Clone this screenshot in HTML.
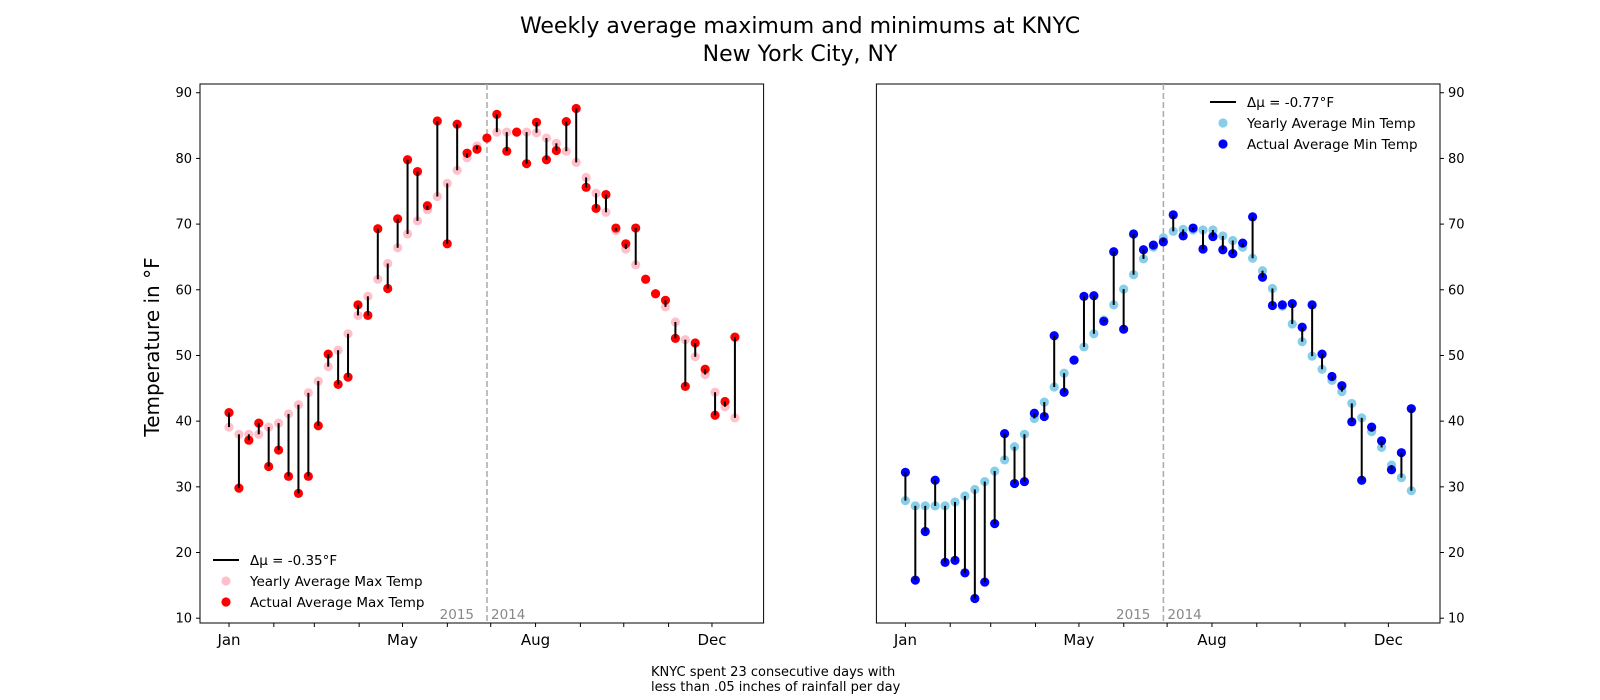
<!DOCTYPE html>
<html><head><meta charset="utf-8"><style>
body{margin:0;background:#fff;}
svg{display:block;font-family:"DejaVu Sans","Liberation Sans",sans-serif;}
</style></head><body>
<svg id="fig" width="1600" height="700" viewBox="0 0 1600 700">
<text x="800" y="33" text-anchor="middle" font-size="22">Weekly average maximum and minimums at KNYC</text>
<text x="800" y="61" text-anchor="middle" font-size="22">New York City, NY</text>
<text transform="translate(159,347) rotate(-90)" text-anchor="middle" font-size="20">Temperature in °F</text>
<text x="651" y="676" font-size="13">KNYC spent 23 consecutive days with</text>
<text x="651" y="691" font-size="13">less than .05 inches of rainfall per day</text>
<g id="p1"></g>
<g id="p2"></g>
</svg>
<script>
const maxYearly=[39.1,38.0,38.0,38.0,39.1,39.7,41.1,42.5,44.3,46.1,48.3,50.8,53.3,56.1,59.0,61.6,64.0,66.4,68.5,70.5,72.2,74.2,76.2,78.2,80.1,81.9,83.1,84.0,84.0,84.0,84.0,83.9,83.1,82.3,81.1,79.4,77.1,74.7,71.8,69.0,66.2,63.8,61.6,59.4,57.4,55.1,52.4,49.8,47.1,44.4,42.2,40.5];
const maxActual=[41.3,29.8,37.1,39.7,33.1,35.6,31.6,29.0,31.6,39.3,50.2,45.6,46.7,57.7,56.1,69.3,60.2,70.8,79.8,78.0,72.8,85.7,67.0,85.2,80.8,81.4,83.1,86.7,81.1,84.0,79.2,85.5,79.8,81.2,85.6,87.6,75.6,72.4,74.5,69.4,67.0,69.4,61.6,59.4,58.4,52.6,45.3,51.9,47.9,40.9,43.0,52.8];
const minYearly=[27.9,27.1,27.1,27.1,27.1,27.7,28.6,29.6,30.8,32.4,34.1,36.1,38.0,40.4,42.9,45.2,47.3,49.3,51.3,53.3,55.4,57.7,60.1,62.3,64.7,66.5,67.9,68.9,69.2,69.1,69.1,69.1,68.2,67.5,66.5,64.8,62.9,60.2,57.5,54.8,52.1,49.9,47.9,46.2,44.5,42.7,40.5,38.4,36.0,33.3,31.4,29.4];
const minActual=[32.2,15.8,23.2,31.0,18.5,18.8,16.9,13.0,15.5,24.4,38.1,30.5,30.8,41.2,40.7,53.0,44.4,49.3,59.0,59.1,55.2,65.8,54.0,68.5,66.1,66.8,67.3,71.4,68.2,69.4,66.2,68.1,66.1,65.5,67.1,71.1,61.9,57.6,57.7,57.9,54.3,57.7,50.2,46.8,45.4,39.9,31.0,39.1,37.0,32.6,35.2,41.9];
const yTicks=[10,20,30,40,50,60,70,80,90];
const monthDays=[0,31,59,90,120,151,181,212,243,273,304,334];
const monthLabels=["Jan","","","","May","","","Aug","","","","Dec"];
const yMin=9.27,yMax=91.33;
const NS="http://www.w3.org/2000/svg";
const TOP=84,BOT=623,W=563.6;
function mk(p,tag,a){const e=document.createElementNS(NS,tag);for(const k in a)e.setAttribute(k,a[k]);p.appendChild(e);return e;}
function yS(v){return BOT-(v-yMin)/(yMax-yMin)*(BOT-TOP);}
function panel(g,L,yearly,actual,cY,cA,leg,right,delta){
  const xW=i=>L+29+i*9.92, xD=d=>L+29+d*1.446;
  const fr=mk(g,'rect',{x:L,y:TOP,width:W,height:BOT-TOP,fill:'none',stroke:'#000','stroke-width':1});
  
  
  const dx=L+287;
  const dl=mk(g,'line',{x1:dx,x2:dx,y1:TOP,y2:BOT,stroke:'#aaa','stroke-width':1.5,'stroke-dasharray':'6,3'});
  
  
  const t1=mk(g,'text',{x:dx-13,y:BOT-4,'text-anchor':'end','font-size':13.5,fill:'#888'});t1.textContent='2015';
  
  
  const t2=mk(g,'text',{x:dx+4,y:BOT-4,'font-size':13.5,fill:'#888'});t2.textContent='2014';
  
  
  yTicks.forEach(v=>{const y=yS(v);
    const tx=right?L+W:L;
    mk(g,'line',{x1:tx,x2:right?tx+4:tx-4,y1:y,y2:y,stroke:'#000'});
    const t=mk(g,'text',{x:right?tx+8:tx-8,y:y+4.5,'text-anchor':right?'start':'end','font-size':13});t.textContent=v;
    
    
  });
  monthDays.forEach((d,k)=>{const x=xD(d);
    mk(g,'line',{x1:x,x2:x,y1:BOT,y2:BOT+4,stroke:'#000'});
    if(monthLabels[k]){const t=mk(g,'text',{x:x,y:BOT+22,'text-anchor':'middle','font-size':15});t.textContent=monthLabels[k];
      
      }
  });
  yearly.forEach((v,i)=>{const c=mk(g,'circle',{cx:xW(i),cy:yS(v),r:4.6,fill:cY});
    
    });
  actual.forEach((v,i)=>{const c=mk(g,'circle',{cx:xW(i),cy:yS(v),r:4.6,fill:cA});
    
    });
  actual.forEach((v,i)=>{const l=mk(g,'line',{x1:xW(i),x2:xW(i),y1:yS(v),y2:yS(yearly[i]),stroke:'#000','stroke-width':2});
    
    });
  const lx=leg[0],ly=leg[1];
  mk(g,'line',{x1:lx,x2:lx+26,y1:ly,y2:ly,stroke:'#000','stroke-width':2});
  const a=mk(g,'text',{x:lx+37,y:ly+5,'font-size':13.5});a.textContent='Δμ = '+delta+'°F';
  
  
  mk(g,'circle',{cx:lx+13,cy:ly+21,r:4.6,fill:cY});
  const b=mk(g,'text',{x:lx+37,y:ly+26,'font-size':13.5});b.textContent=leg[2];
  
  
  mk(g,'circle',{cx:lx+13,cy:ly+42,r:4.6,fill:cA});
  const c=mk(g,'text',{x:lx+37,y:ly+47,'font-size':13.5});c.textContent=leg[3];
  
  
}
panel(document.getElementById('p1'),200,maxYearly,maxActual,'pink','red',[213,560,'Yearly Average Max Temp','Actual Average Max Temp'],false,'-0.35');
panel(document.getElementById('p2'),876.4,minYearly,minActual,'skyblue','blue',[1210,102,'Yearly Average Min Temp','Actual Average Min Temp'],true,'-0.77');
</script>
</body></html>
